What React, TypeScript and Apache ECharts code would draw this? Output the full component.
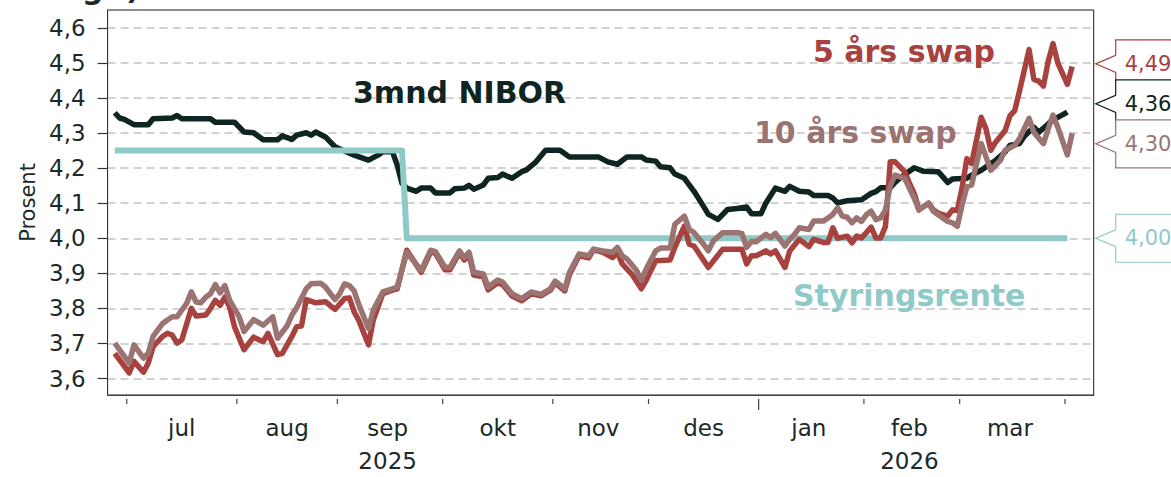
import React, { useEffect, useRef } from "react";
import * as echarts from "echarts";

// ---------- categories (business days on the axis) ----------
const AXIS_START = "2025-06-25";
const AXIS_END = "2026-04-08";
function businessDays(start: string, end: string): string[] {
  const out: string[] = [];
  const d = new Date(start + "T00:00:00Z");
  const e = new Date(end + "T00:00:00Z");
  while (d <= e) {
    const wd = d.getUTCDay();
    if (wd !== 0 && wd !== 6) out.push(d.toISOString().slice(0, 10));
    d.setUTCDate(d.getUTCDate() + 1);
  }
  return out;
}
const categories = businessDays(AXIS_START, AXIS_END);

const monthNames = ["jan", "feb", "mar", "apr", "mai", "jun", "jul", "aug", "sep", "okt", "nov", "des"];
const labelledMonths = ["2025-07", "2025-08", "2025-09", "2025-10", "2025-11", "2025-12", "2026-01", "2026-02", "2026-03"];
const yearUnderMonth: Record<string, string> = { "2025-09": "2025", "2026-02": "2026" };
const yTicks = [3.6, 3.7, 3.8, 3.9, 4.0, 4.1, 4.2, 4.3, 4.4, 4.5, 4.6];

// ---------- series values ----------
const nibor3m: [string, number][] = [
  ["2025-06-26", 4.358], ["2025-06-27", 4.343], ["2025-06-30", 4.339], ["2025-07-02", 4.324], ["2025-07-07", 4.324],
  ["2025-07-08", 4.341], ["2025-07-14", 4.343], ["2025-07-15", 4.35], ["2025-07-16", 4.341], ["2025-07-24", 4.341],
  ["2025-07-25", 4.331], ["2025-07-31", 4.331], ["2025-08-04", 4.303], ["2025-08-06", 4.301], ["2025-08-08", 4.281],
  ["2025-08-13", 4.281], ["2025-08-14", 4.292], ["2025-08-18", 4.282], ["2025-08-19", 4.294], ["2025-08-21", 4.301],
  ["2025-08-22", 4.294], ["2025-08-25", 4.303], ["2025-08-27", 4.289], ["2025-08-29", 4.261], ["2025-09-02", 4.249],
  ["2025-09-04", 4.237], ["2025-09-09", 4.223], ["2025-09-11", 4.237], ["2025-09-12", 4.247], ["2025-09-16", 4.247],
  ["2025-09-17", 4.209], ["2025-09-18", 4.157], ["2025-09-19", 4.143], ["2025-09-23", 4.134], ["2025-09-24", 4.143],
  ["2025-09-26", 4.143], ["2025-09-29", 4.129], ["2025-10-02", 4.129], ["2025-10-03", 4.141], ["2025-10-07", 4.143],
  ["2025-10-08", 4.151], ["2025-10-09", 4.14], ["2025-10-13", 4.152], ["2025-10-14", 4.171], ["2025-10-16", 4.173],
  ["2025-10-17", 4.183], ["2025-10-21", 4.171], ["2025-10-23", 4.19], ["2025-10-24", 4.195], ["2025-10-28", 4.218],
  ["2025-10-30", 4.251], ["2025-11-04", 4.251], ["2025-11-06", 4.232], ["2025-11-14", 4.232], ["2025-11-18", 4.218],
  ["2025-11-20", 4.211], ["2025-11-24", 4.232], ["2025-11-27", 4.232], ["2025-11-28", 4.223], ["2025-12-02", 4.22],
  ["2025-12-03", 4.204], ["2025-12-05", 4.201], ["2025-12-08", 4.183], ["2025-12-10", 4.171], ["2025-12-12", 4.134],
  ["2025-12-16", 4.091], ["2025-12-17", 4.068], ["2025-12-19", 4.054], ["2025-12-23", 4.082], ["2025-12-25", 4.085],
  ["2025-12-29", 4.089], ["2025-12-30", 4.07], ["2026-01-01", 4.07], ["2026-01-02", 4.1], ["2026-01-06", 4.143],
  ["2026-01-08", 4.134], ["2026-01-09", 4.148], ["2026-01-13", 4.134], ["2026-01-15", 4.132], ["2026-01-16", 4.122],
  ["2026-01-21", 4.122], ["2026-01-22", 4.115], ["2026-01-23", 4.101], ["2026-01-27", 4.107], ["2026-01-30", 4.11],
  ["2026-02-03", 4.128], ["2026-02-04", 4.133], ["2026-02-05", 4.144], ["2026-02-09", 4.144], ["2026-02-10", 4.159],
  ["2026-02-11", 4.171], ["2026-02-13", 4.191], ["2026-02-16", 4.201], ["2026-02-18", 4.191], ["2026-02-23", 4.19],
  ["2026-02-24", 4.175], ["2026-02-25", 4.159], ["2026-02-26", 4.169], ["2026-03-03", 4.171], ["2026-03-04", 4.18],
  ["2026-03-06", 4.194], ["2026-03-10", 4.213], ["2026-03-11", 4.222], ["2026-03-13", 4.246], ["2026-03-16", 4.265],
  ["2026-03-18", 4.27], ["2026-03-19", 4.291], ["2026-03-23", 4.317], ["2026-03-24", 4.302], ["2026-03-26", 4.326],
  ["2026-03-27", 4.34], ["2026-03-30", 4.345], ["2026-04-01", 4.36],
];

const swap10y: [string, number][] = [
  ["2025-06-26", 3.701], ["2025-06-30", 3.663], ["2025-07-01", 3.644], ["2025-07-02", 3.696], ["2025-07-04", 3.658],
  ["2025-07-07", 3.672], ["2025-07-08", 3.72], ["2025-07-10", 3.757], ["2025-07-11", 3.767], ["2025-07-14", 3.776],
  ["2025-07-15", 3.776], ["2025-07-17", 3.814], ["2025-07-18", 3.847], ["2025-07-21", 3.818], ["2025-07-22", 3.816],
  ["2025-07-23", 3.832], ["2025-07-24", 3.842], ["2025-07-25", 3.868], ["2025-07-28", 3.844], ["2025-07-29", 3.865],
  ["2025-07-30", 3.823], ["2025-08-01", 3.776], ["2025-08-04", 3.734], ["2025-08-06", 3.768], ["2025-08-08", 3.752],
  ["2025-08-12", 3.776], ["2025-08-13", 3.715], ["2025-08-15", 3.75], ["2025-08-18", 3.781], ["2025-08-19", 3.802],
  ["2025-08-21", 3.856], ["2025-08-22", 3.87], ["2025-08-26", 3.872], ["2025-08-27", 3.861], ["2025-08-29", 3.825],
  ["2025-09-01", 3.842], ["2025-09-02", 3.87], ["2025-09-03", 3.865], ["2025-09-04", 3.85], ["2025-09-05", 3.81],
  ["2025-09-09", 3.743], ["2025-09-10", 3.795], ["2025-09-12", 3.847], ["2025-09-16", 3.856], ["2025-09-17", 3.861],
  ["2025-09-19", 3.96], ["2025-09-24", 3.908], ["2025-09-26", 3.966], ["2025-09-29", 3.962], ["2025-10-01", 3.917],
  ["2025-10-02", 3.917], ["2025-10-06", 3.964], ["2025-10-07", 3.945], ["2025-10-08", 3.96], ["2025-10-09", 3.903],
  ["2025-10-13", 3.898], ["2025-10-14", 3.861], ["2025-10-16", 3.881], ["2025-10-17", 3.875], ["2025-10-21", 3.842],
  ["2025-10-23", 3.828], ["2025-10-27", 3.847], ["2025-10-29", 3.84], ["2025-10-31", 3.856], ["2025-11-03", 3.878],
  ["2025-11-05", 3.856], ["2025-11-06", 3.903], ["2025-11-10", 3.955], ["2025-11-12", 3.95], ["2025-11-13", 3.969],
  ["2025-11-17", 3.964], ["2025-11-19", 3.96], ["2025-11-20", 3.974], ["2025-11-21", 3.95], ["2025-11-24", 3.941],
  ["2025-11-26", 3.908], ["2025-11-27", 3.88], ["2025-11-28", 3.912], ["2025-12-02", 3.964], ["2025-12-03", 3.972],
  ["2025-12-05", 3.972], ["2025-12-08", 4.04], ["2025-12-10", 4.063], ["2025-12-11", 4.025], ["2025-12-12", 4.016],
  ["2025-12-16", 3.983], ["2025-12-17", 3.964], ["2025-12-18", 3.992], ["2025-12-22", 4.016], ["2025-12-25", 4.016],
  ["2025-12-26", 4.014], ["2025-12-29", 3.974], ["2025-12-30", 3.991], ["2025-12-31", 3.99], ["2026-01-02", 4.011],
  ["2026-01-05", 4.002], ["2026-01-06", 4.014], ["2026-01-08", 3.978], ["2026-01-09", 3.997], ["2026-01-12", 4.011],
  ["2026-01-13", 4.03], ["2026-01-15", 4.025], ["2026-01-16", 4.049], ["2026-01-20", 4.049], ["2026-01-21", 4.058],
  ["2026-01-22", 4.068], ["2026-01-23", 4.087], ["2026-01-26", 4.063], ["2026-01-27", 4.06], ["2026-01-28", 4.044],
  ["2026-01-29", 4.058], ["2026-01-30", 4.048], ["2026-02-02", 4.067], ["2026-02-03", 4.077], ["2026-02-04", 4.053],
  ["2026-02-05", 4.058], ["2026-02-06", 4.081], ["2026-02-09", 4.15], ["2026-02-10", 4.18], ["2026-02-12", 4.171],
  ["2026-02-13", 4.143], ["2026-02-16", 4.114], ["2026-02-17", 4.081], ["2026-02-19", 4.1], ["2026-02-20", 4.077],
  ["2026-02-23", 4.067], ["2026-02-25", 4.048], ["2026-02-26", 4.044], ["2026-02-27", 4.034], ["2026-03-02", 4.095],
  ["2026-03-03", 4.147], ["2026-03-04", 4.152], ["2026-03-06", 4.27], ["2026-03-09", 4.232], ["2026-03-10", 4.194],
  ["2026-03-12", 4.222], ["2026-03-13", 4.251], ["2026-03-17", 4.265], ["2026-03-18", 4.284], ["2026-03-20", 4.342],
  ["2026-03-23", 4.302], ["2026-03-25", 4.27], ["2026-03-26", 4.312], ["2026-03-27", 4.351], ["2026-03-30", 4.317],
  ["2026-04-01", 4.238], ["2026-04-02", 4.3],
];

const swap5y: [string, number][] = [
  ["2025-06-26", 3.672], ["2025-06-30", 3.635], ["2025-07-01", 3.616], ["2025-07-02", 3.649], ["2025-07-04", 3.618],
  ["2025-07-07", 3.644], ["2025-07-08", 3.691], ["2025-07-10", 3.72], ["2025-07-11", 3.729], ["2025-07-14", 3.724],
  ["2025-07-15", 3.701], ["2025-07-16", 3.71], ["2025-07-18", 3.8], ["2025-07-21", 3.778], ["2025-07-23", 3.781],
  ["2025-07-24", 3.8], ["2025-07-25", 3.823], ["2025-07-28", 3.809], ["2025-07-29", 3.832], ["2025-07-30", 3.804],
  ["2025-07-31", 3.748], ["2025-08-04", 3.682], ["2025-08-06", 3.718], ["2025-08-08", 3.705], ["2025-08-11", 3.729],
  ["2025-08-13", 3.668], ["2025-08-14", 3.672], ["2025-08-18", 3.72], ["2025-08-19", 3.748], ["2025-08-20", 3.75],
  ["2025-08-21", 3.825], ["2025-08-25", 3.816], ["2025-08-27", 3.819], ["2025-08-29", 3.797], ["2025-09-02", 3.828],
  ["2025-09-03", 3.83], ["2025-09-04", 3.79], ["2025-09-05", 3.765], ["2025-09-09", 3.696], ["2025-09-10", 3.767],
  ["2025-09-12", 3.842], ["2025-09-16", 3.852], ["2025-09-17", 3.856], ["2025-09-19", 3.966], ["2025-09-24", 3.903],
  ["2025-09-26", 3.961], ["2025-09-29", 3.957], ["2025-10-01", 3.91], ["2025-10-02", 3.91], ["2025-10-06", 3.959],
  ["2025-10-07", 3.938], ["2025-10-08", 3.955], ["2025-10-09", 3.895], ["2025-10-13", 3.89], ["2025-10-14", 3.853],
  ["2025-10-16", 3.873], ["2025-10-17", 3.868], ["2025-10-21", 3.835], ["2025-10-23", 3.822], ["2025-10-27", 3.842],
  ["2025-10-29", 3.836], ["2025-10-31", 3.852], ["2025-11-03", 3.873], ["2025-11-05", 3.85], ["2025-11-06", 3.897],
  ["2025-11-10", 3.95], ["2025-11-12", 3.944], ["2025-11-13", 3.967], ["2025-11-17", 3.96], ["2025-11-19", 3.945],
  ["2025-11-20", 3.96], ["2025-11-21", 3.927], ["2025-11-25", 3.898], ["2025-11-27", 3.856], ["2025-11-28", 3.88],
  ["2025-12-02", 3.936], ["2025-12-05", 3.938], ["2025-12-08", 3.974], ["2025-12-10", 4.035], ["2025-12-11", 3.983],
  ["2025-12-12", 3.978], ["2025-12-17", 3.917], ["2025-12-22", 3.969], ["2025-12-26", 3.969], ["2025-12-29", 3.927],
  ["2025-12-30", 3.95], ["2025-12-31", 3.95], ["2026-01-02", 3.964], ["2026-01-05", 3.955], ["2026-01-06", 3.964],
  ["2026-01-08", 3.917], ["2026-01-09", 3.964], ["2026-01-13", 3.997], ["2026-01-15", 3.976], ["2026-01-16", 3.997],
  ["2026-01-20", 3.988], ["2026-01-21", 3.988], ["2026-01-22", 4.03], ["2026-01-23", 4.0], ["2026-01-27", 4.006],
  ["2026-01-28", 3.987], ["2026-01-29", 4.006], ["2026-01-30", 4.001], ["2026-02-02", 4.016], ["2026-02-03", 4.032],
  ["2026-02-04", 4.001], ["2026-02-05", 4.001], ["2026-02-06", 4.034], ["2026-02-09", 4.218], ["2026-02-10", 4.218],
  ["2026-02-12", 4.19], ["2026-02-13", 4.157], ["2026-02-16", 4.128], ["2026-02-17", 4.081], ["2026-02-19", 4.1],
  ["2026-02-20", 4.081], ["2026-02-23", 4.072], ["2026-02-25", 4.063], ["2026-02-26", 4.081], ["2026-02-27", 4.079],
  ["2026-03-02", 4.143], ["2026-03-03", 4.227], ["2026-03-04", 4.213], ["2026-03-05", 4.279], ["2026-03-06", 4.345],
  ["2026-03-09", 4.312], ["2026-03-10", 4.251], ["2026-03-11", 4.274], ["2026-03-13", 4.307], ["2026-03-16", 4.349],
  ["2026-03-17", 4.364], ["2026-03-18", 4.42], ["2026-03-20", 4.538], ["2026-03-23", 4.453], ["2026-03-24", 4.448],
  ["2026-03-25", 4.434], ["2026-03-26", 4.505], ["2026-03-27", 4.555], ["2026-03-30", 4.5], ["2026-04-01", 4.439],
  ["2026-04-02", 4.49],
];

const styringsrente: [string, number][] = [
  ["2025-06-26", 4.25], ["2025-09-18", 4.25], ["2025-09-19", 4.0], ["2026-04-01", 4.0],
];

// ---------- styling ----------
const C_NIBOR = "#0e2521";
const C_5Y = "#a8423f";
const C_10Y = "#9b7472";
const C_STY = "#8fcac8";
const C_TEXT = "#1b2a27";
const FONT = "DejaVu Sans";

const W = 1171;
const H = 477;
const GRID = { left: 107.6, right: 77.3, top: 10, bottom: 78 };

const monthKey = (d: string) => d.slice(0, 7);
const tickIdx: number[] = [];
const monthRange: Record<string, [number, number]> = {};
categories.forEach((d, i) => {
  const k = monthKey(d);
  if (!monthRange[k]) monthRange[k] = [i, i];
  monthRange[k][1] = i;
  if (i > 0 && monthKey(categories[i - 1]) !== k) tickIdx.push(i);
});
const labelIdx = new Map<number, string>();
labelledMonths.forEach((k) => {
  const [a, b] = monthRange[k];
  const m = parseInt(k.slice(5, 7), 10) - 1;
  const yr = yearUnderMonth[k];
  labelIdx.set(Math.floor((a + b) / 2), yr ? monthNames[m] + "\n" + yr : monthNames[m]);
});

export default function App() {
  const ref = useRef<HTMLDivElement>(null);
  useEffect(() => {
    if (!ref.current) return;
    const chart = echarts.init(ref.current, undefined, { renderer: "svg" });
    const line = (name: string, data: [string, number][], color: string, width: number) => ({
      name,
      type: "line",
      data,
      symbol: "none",
      showSymbol: false,
      silent: true,
      lineStyle: { color, width, cap: "butt", join: "round" },
      itemStyle: { color },
      emphasis: { disabled: true },
    });
    chart.setOption({
      animation: false,
      grid: { ...GRID, show: true, borderColor: "#1a1a1a", borderWidth: 1, backgroundColor: "#ffffff" },
      xAxis: {
        type: "category",
        data: categories,
        boundaryGap: true,
        axisLine: { show: true, lineStyle: { color: "#444", width: 1 } },
        axisTick: { show: false },
        axisLabel: {
          interval: (i: number) => labelIdx.has(i),
          formatter: (_v: string, i: number) => labelIdx.get(i) || "",
          fontSize: 23,
          fontFamily: FONT,
          color: C_TEXT,
          margin: 16,
          lineHeight: 33,
        },
        splitLine: { show: false },
      },
      yAxis: {
        type: "value",
        min: 3.553,
        max: 4.651,
        splitNumber: 11,
        name: "Prosent",
        nameLocation: "middle",
        nameGap: 68,
        nameTextStyle: { fontSize: 21, fontFamily: FONT, color: C_TEXT },
        axisLine: { show: true, lineStyle: { color: "#333", width: 1 } },
        axisTick: { show: true, customValues: yTicks, length: 10, lineStyle: { color: "#333", width: 1.2 } },
        axisLabel: {
          customValues: yTicks,
          formatter: (v: number) => v.toFixed(1).replace(".", ","),
          fontSize: 23,
          fontFamily: FONT,
          color: C_TEXT,
          margin: 22,
        },
        splitLine: { show: true, lineStyle: { color: "#c2c2c2", width: 1.6, type: [8, 5] } },
      },
      series: [
        line("3mnd NIBOR", nibor3m, C_NIBOR, 5.5),
        line("Styringsrente", styringsrente, C_STY, 6),
        line("5 års swap", swap5y, C_5Y, 5.5),
        line("10 års swap", swap10y, C_10Y, 5.5),
      ],
    });

    // ----- callouts at the right edge (repelled vertically) -----
    const ends = [
      { v: swap5y[swap5y.length - 1][1], color: C_5Y },
      { v: nibor3m[nibor3m.length - 1][1], color: C_NIBOR },
      { v: swap10y[swap10y.length - 1][1], color: C_10Y },
      { v: styringsrente[styringsrente.length - 1][1], color: C_STY },
    ].map((e) => ({ ...e, y: chart.convertToPixel({ yAxisIndex: 0 }, e.v) as number }));
    ends.sort((a, b) => a.y - b.y);
    const GAP = 40;
    let clusters = ends.map((e) => ({ items: [e], c: e.y }));
    let merged = true;
    while (merged) {
      merged = false;
      for (let k = 0; k < clusters.length - 1; k++) {
        const A = clusters[k];
        const B = clusters[k + 1];
        const aBottom = A.c + ((A.items.length - 1) * GAP) / 2;
        const bTop = B.c - ((B.items.length - 1) * GAP) / 2;
        if (bTop - aBottom < GAP) {
          const items = A.items.concat(B.items);
          const c = items.reduce((s, it) => s + it.y, 0) / items.length;
          clusters.splice(k, 2, { items, c });
          merged = true;
          break;
        }
      }
    }
    const placed: { v: number; color: string; ty: number }[] = [];
    clusters.forEach((cl) => {
      cl.items.forEach((it, j) => {
        placed.push({ v: it.v, color: it.color, ty: cl.c - ((cl.items.length - 1) * GAP) / 2 + j * GAP });
      });
    });
    const tipX = W - GRID.right + 2;
    const boxX = tipX + 20;
    const callouts: any[] = [];
    placed.forEach((p) => {
      const t = p.ty;
      callouts.push({
        type: "polygon",
        silent: true,
        shape: {
          points: [
            [tipX, t], [boxX, t - 8.5], [boxX, t - 24], [W + 30, t - 24],
            [W + 30, t + 24], [boxX, t + 24], [boxX, t + 8.5],
          ],
        },
        style: { fill: "#ffffff", stroke: p.color, lineWidth: 1.2 },
      });
      callouts.push({
        type: "text",
        silent: true,
        x: boxX + 9,
        y: t,
        style: {
          text: p.v.toFixed(2).replace(".", ","),
          fill: p.color,
          font: `21px "${FONT}"`,
          align: "left",
          verticalAlign: "middle",
        },
      });
    });

    // ----- month ticks (at the band boundary before each month's first day) -----
    const band = (chart.convertToPixel({ xAxisIndex: 0 }, categories[1]) as number) -
      (chart.convertToPixel({ xAxisIndex: 0 }, categories[0]) as number);
    const yBottom = H - GRID.bottom;
    const ticks = tickIdx.map((i) => {
      const x = (chart.convertToPixel({ xAxisIndex: 0 }, categories[i]) as number) - band / 2;
      const isYear = categories[i].slice(5, 7) === "01";
      return {
        type: "line",
        silent: true,
        shape: { x1: x, y1: yBottom, x2: x, y2: yBottom + (isYear ? 11 : 5) },
        style: { stroke: "#444", lineWidth: 1.2 },
      };
    });

    const label = (text: string, x: number, y: number, color: string) => ({
      type: "text",
      silent: true,
      x,
      y,
      style: { text, fill: color, font: `bold 30px "${FONT}"`, align: "left", verticalAlign: "middle" },
    });

    chart.setOption({
      graphic: [
        label("g", 82, -12, C_TEXT),
        label(")", 126, -12, C_TEXT),
        label("3mnd NIBOR", 353, 92.5, C_NIBOR),
        label("5 års swap", 813, 51.5, C_5Y),
        label("10 års swap", 754, 132, C_10Y),
        label("Styringsrente", 793, 295, C_STY),
        ...ticks,
        ...callouts,
      ],
    });

    return () => chart.dispose();
  }, []);
  return (
    <div
      ref={ref}
      style={{ position: "fixed", left: 0, top: 0, width: W, height: H, background: "#ffffff" }}
    />
  );
}
